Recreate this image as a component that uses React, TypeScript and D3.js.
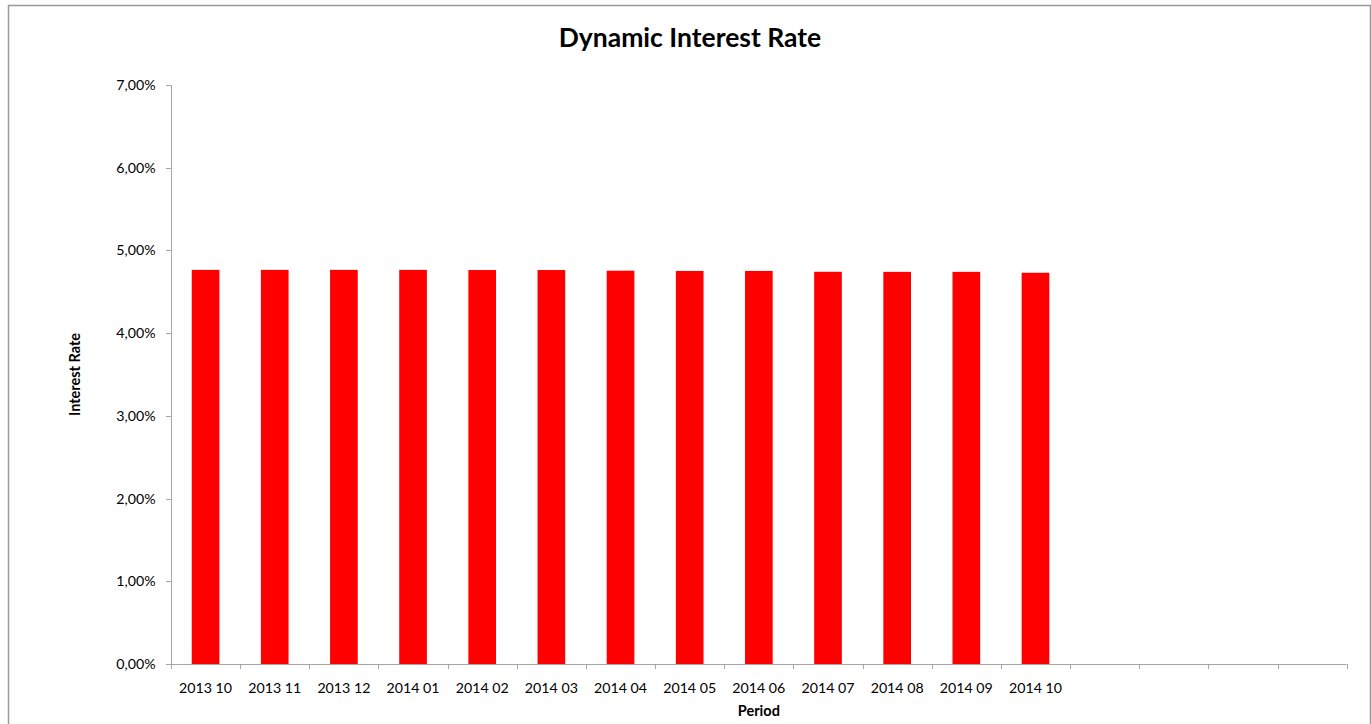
import React from "react";
import * as d3 from "d3";

const categories = [
  "2013 10", "2013 11", "2013 12", "2014 01", "2014 02", "2014 03", "2014 04",
  "2014 05", "2014 06", "2014 07", "2014 08", "2014 09", "2014 10", "", " ", "  ", "   ",
];
const values = [4.765, 4.765, 4.765, 4.765, 4.763, 4.763, 4.755, 4.752, 4.752, 4.742, 4.741, 4.741, 4.73];
const yTicks = [0, 1, 2, 3, 4, 5, 6, 7];

const W = 1371;
const H = 724;
const left = 171;
const right = 1346.7;
const top = 85;
const bottom = 664;
const font = "Lato, 'Open Sans', sans-serif";
const axisColor = "#a6a6a6";

export default function App() {
  const x = d3.scaleBand<string>().domain(categories).range([left, right]).paddingInner(0.6).paddingOuter(0.3);
  const band = d3.scaleBand<string>().domain(categories).range([left, right]);
  const y = d3.scaleLinear().domain([0, 7]).range([bottom, top]);
  const fmt = (v: number) => v.toFixed(2).replace(".", ",") + "%";
  const tickXs = categories.map((c) => band(c)!).concat([right]);

  return (
    <svg width={W} height={H} style={{ position: "absolute", left: 0, top: 0 }} fontFamily={font}>
      <rect x={0} y={0} width={W} height={H} fill="#fff" />
      <rect x={8.5} y={5.5} width={1362} height={740} fill="none" stroke="#9a9a9a" strokeWidth={1.5} />
      <text x={690} y={47} textAnchor="middle" fontSize={26.5} fontWeight="bold" fill="#000">
        Dynamic Interest Rate
      </text>
      {values.map((v, i) => (
        <rect
          key={i}
          x={x(categories[i])!}
          y={y(v)}
          width={x.bandwidth()}
          height={bottom - y(v)}
          fill="#ff0000"
        />
      ))}
      <line x1={left + 0.5} x2={left + 0.5} y1={top} y2={bottom} stroke={axisColor} strokeWidth={1} />
      {yTicks.map((t) => (
        <g key={t}>
          <line x1={left - 5} x2={left} y1={Math.round(y(t)) + 0.5} y2={Math.round(y(t)) + 0.5} stroke={axisColor} />
          <text x={155.5} y={y(t) + 5} textAnchor="end" fontSize={14.2} fill="#000">
            {fmt(t)}
          </text>
        </g>
      ))}
      <line x1={left} x2={right} y1={bottom + 0.5} y2={bottom + 0.5} stroke={axisColor} />
      {tickXs.map((tx, i) => (
        <line key={i} x1={Math.round(tx) + 0.5} x2={Math.round(tx) + 0.5} y1={bottom} y2={bottom + 5} stroke={axisColor} />
      ))}
      {categories.map((c, i) => (
        <text key={i} x={band(c)! + band.bandwidth() / 2} y={693} textAnchor="middle" fontSize={14.2} fill="#000">
          {c.trim()}
        </text>
      ))}
      <text x={(left + right) / 2} y={715.5} textAnchor="middle" fontSize={14.5} fontWeight="bold" fill="#000">
        Period
      </text>
      <text
        transform={`translate(80, ${(top + bottom) / 2}) rotate(-90)`}
        textAnchor="middle"
        fontSize={14.5}
        fontWeight="bold"
        fill="#000"
      >
        Interest Rate
      </text>
    </svg>
  );
}
